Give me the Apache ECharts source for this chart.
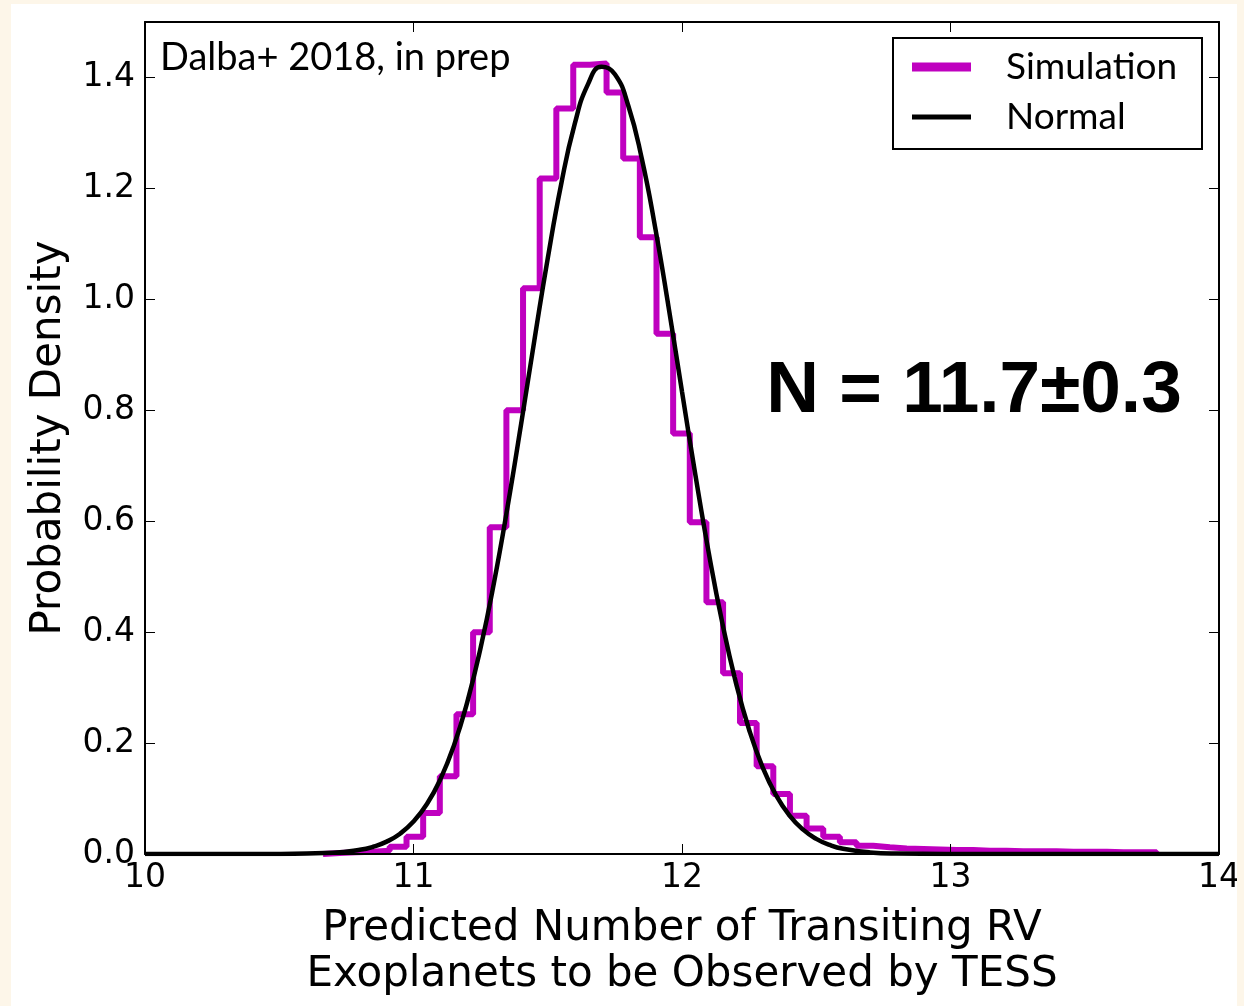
<!DOCTYPE html>
<html>
<head>
<meta charset="utf-8">
<script src="https://cdn.jsdelivr.net/npm/echarts@6/dist/echarts.min.js"></script>
<style>
  html, body { margin: 0; padding: 0; background: #fdf6e9; }
  #main { position: absolute; left: 11px; top: 4px; width: 1226px; height: 1002px; background: #ffffff; }
</style>
</head>
<body>
<div id="main"></div>
<script>
// histogram bin edges (50 bins) and density per bin
var binEdges = [
  10.663, 10.725, 10.787, 10.849, 10.911, 10.974, 11.036, 11.098, 11.160, 11.222,
  11.284, 11.346, 11.408, 11.470, 11.532, 11.595, 11.657, 11.719, 11.781, 11.843,
  11.905, 11.967, 12.029, 12.091, 12.153, 12.216, 12.278, 12.340, 12.402, 12.464,
  12.526, 12.588, 12.650, 12.712, 12.774, 12.837, 12.899, 12.961, 13.023, 13.085,
  13.147, 13.209, 13.271, 13.333, 13.395, 13.458, 13.520, 13.582, 13.644, 13.706,
  13.768
];
var simDensity = [
  0.002, 0.003, 0.004, 0.006, 0.013, 0.031, 0.074, 0.140, 0.252, 0.400,
  0.589, 0.800, 1.020, 1.218, 1.344, 1.423, 1.425, 1.373, 1.254, 1.112,
  0.938, 0.758, 0.598, 0.454, 0.326, 0.236, 0.158, 0.108, 0.069, 0.046,
  0.031, 0.021, 0.015, 0.012, 0.010, 0.009, 0.008, 0.007, 0.007, 0.006,
  0.006, 0.005, 0.005, 0.005, 0.004, 0.004, 0.004, 0.003, 0.003, 0.003
];

// fitted normal curve
var normX = [
  10.0, 10.5, 10.7, 10.8, 10.85, 10.9, 10.95, 11.0, 11.05, 11.1,
  11.15, 11.2, 11.25, 11.3, 11.35, 11.4, 11.45, 11.5, 11.55, 11.6,
  11.65, 11.7, 11.75, 11.8, 11.85, 11.9, 11.95, 12.0, 12.05, 12.1,
  12.15, 12.2, 12.25, 12.3, 12.35, 12.4, 12.45, 12.5, 12.55, 12.6,
  12.7, 12.8, 13.0, 13.5, 14.0
];
var normY = [
  0.0, 0.0001, 0.0022, 0.0075, 0.0131, 0.0223, 0.0366, 0.0584, 0.0900, 0.1346,
  0.1949, 0.2735, 0.3719, 0.4898, 0.6250, 0.7728, 0.9256, 1.0740, 1.2076, 1.3153,
  1.3880, 1.4191, 1.4057, 1.3490, 1.2543, 1.1299, 0.9861, 0.8337, 0.6830, 0.5420,
  0.4168, 0.3104, 0.2241, 0.1567, 0.1062, 0.0697, 0.0443, 0.0273, 0.0163, 0.0094,
  0.0029, 0.0008, 0.0001, 0.0, 0.0
];

var xTicks = [10, 11, 12, 13, 14];
var yTicks = [0.0, 0.2, 0.4, 0.6, 0.8, 1.0, 1.2, 1.4];

(function () {
  var chart = echarts.init(document.getElementById('main'), null, { renderer: 'canvas' });

  // step outline of the histogram
  var simData = [[binEdges[0], 0]];
  for (var i = 0; i < simDensity.length; i++) {
    simData.push([binEdges[i], simDensity[i]]);
  }
  simData.push([binEdges[binEdges.length - 1], 0]);

  var normData = normX.map(function (x, k) { return [x, normY[k]]; });

  var tickFont = { color: '#000', fontSize: 33, fontFamily: 'DejaVu Sans' };
  var axisLine = { show: true, onZero: false, lineStyle: { color: '#000', width: 2 } };
  var tick = { show: true, inside: true, length: 10, lineStyle: { color: '#000', width: 1 } };

  var option = {
    backgroundColor: '#ffffff',
    animation: false,
    grid: { left: 134, top: 18, right: 18, bottom: 152, outerBoundsMode: 'none', containLabel: false },
    xAxis: [
      {
        type: 'value', min: xTicks[0], max: xTicks[xTicks.length - 1], interval: 1,
        z: 5,
        axisLine: axisLine, axisTick: tick, splitLine: { show: false },
        axisLabel: Object.assign({ margin: 8, formatter: function (v) { return String(v); } }, tickFont),
        name: 'Predicted Number of Transiting RV\nExoplanets to be Observed by TESS',
        nameLocation: 'middle', nameGap: 52,
        nameTextStyle: { color: '#000', fontSize: 42, fontFamily: 'DejaVu Sans', lineHeight: 46 }
      },
      {
        type: 'value', position: 'top', min: xTicks[0], max: xTicks[xTicks.length - 1], interval: 1,
        z: 5,
        axisLine: axisLine, axisTick: tick, splitLine: { show: false }, axisLabel: { show: false }
      }
    ],
    yAxis: [
      {
        type: 'value', min: 0, max: 1.5, interval: 0.2,
        z: 5,
        axisLine: axisLine, axisTick: tick, splitLine: { show: false },
        axisLabel: Object.assign({
          margin: 10, showMaxLabel: false,
          formatter: function (v) { return yTicks.indexOf(+v.toFixed(1)) >= 0 ? v.toFixed(1) : ''; }
        }, tickFont),
        name: 'Probability Density', nameLocation: 'middle', nameGap: 75,
        nameTextStyle: { color: '#000', fontSize: 42, fontFamily: 'DejaVu Sans' }
      },
      {
        type: 'value', position: 'right', min: 0, max: 1.5, interval: 0.2,
        z: 5,
        axisLine: axisLine, axisTick: tick, splitLine: { show: false }, axisLabel: { show: false }
      }
    ],
    legend: [
      {
        data: [{ name: 'Simulation', icon: 'rect' }],
        left: 901, top: 41, padding: 0, selectedMode: false,
        itemWidth: 59, itemHeight: 9,
        textStyle: { color: '#000', fontSize: 37, fontFamily: 'Lato', lineHeight: 44, padding: [0, 0, 0, 30] }
      },
      {
        data: [{ name: 'Normal', icon: 'rect' }],
        left: 901, top: 91, padding: 0, selectedMode: false,
        itemWidth: 59, itemHeight: 5,
        textStyle: { color: '#000', fontSize: 37, fontFamily: 'Lato', lineHeight: 44, padding: [0, 0, 0, 30] }
      }
    ],
    graphic: [
      {
        type: 'rect', z: 10,
        shape: { x: 882, y: 34, width: 309, height: 111 },
        style: { fill: 'transparent', stroke: '#000', lineWidth: 2 }
      },
      {
        type: 'text', z: 10, x: 149, y: 54,
        style: { text: 'Dalba+ 2018, in prep', fill: '#000', fontSize: 38, fontFamily: 'Lato', verticalAlign: 'middle' }
      },
      {
        type: 'text', z: 10, x: 963, y: 388,
        style: {
          text: 'N = 11.7\u00b10.3', fill: '#000', fontSize: 73, fontWeight: 'bold',
          fontFamily: 'Liberation Sans', align: 'center', verticalAlign: 'middle'
        }
      }
    ],
    series: [
      {
        name: 'Simulation', type: 'line', step: 'end', data: simData,
        symbol: 'none', color: '#bf00bf',
        lineStyle: { color: '#bf00bf', width: 6 }
      },
      {
        name: 'Normal', type: 'line', data: normData,
        symbol: 'none', smooth: true, color: '#000',
        lineStyle: { color: '#000', width: 4.5 }
      }
    ]
  };
  chart.setOption(option);
})();
</script>
</body>
</html>
